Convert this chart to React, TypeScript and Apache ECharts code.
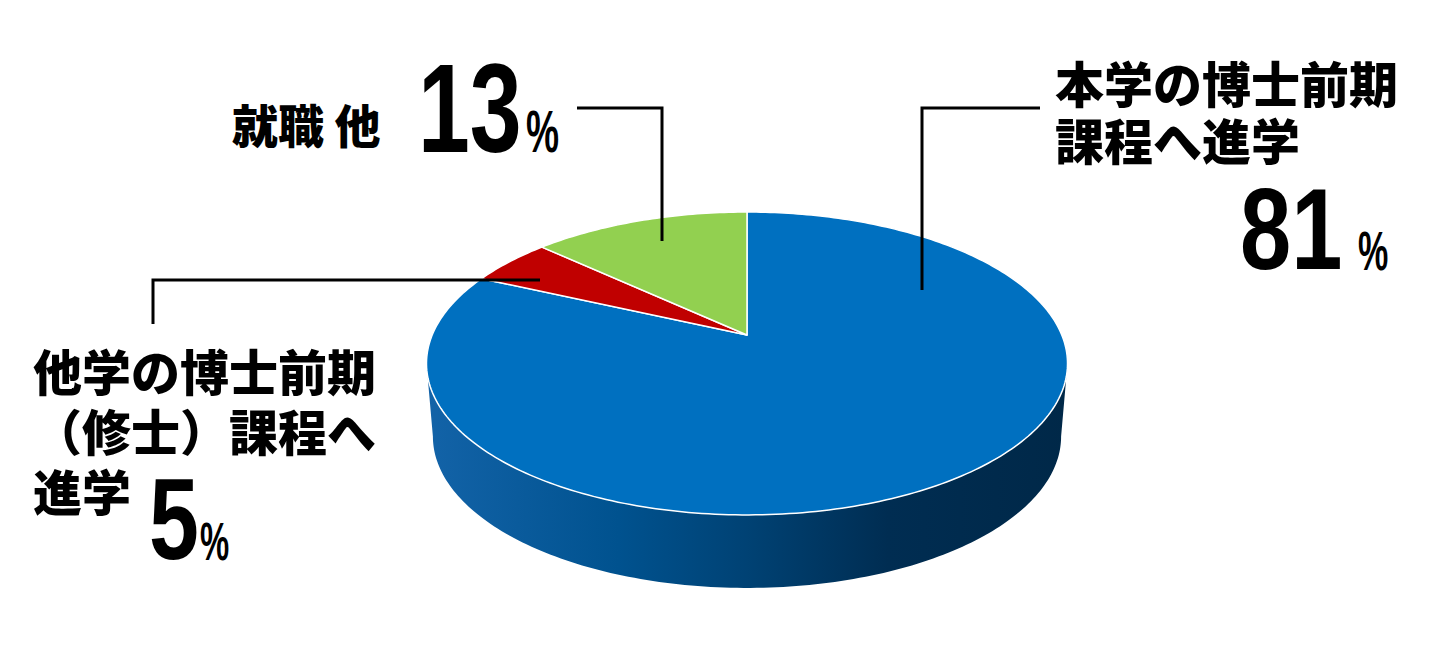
import React, { useEffect, useRef } from "react";
import * as echarts from "echarts";

// ---- data ----
const categories = [
  "本学の博士前期課程へ進学",
  "他学の博士前期（修士）課程へ進学",
  "就職 他",
];
const values = [81, 5, 13];
const colors = ["#0070C0", "#C00000", "#92D050"];
const labelTexts = ["本学の博士前期\n課程へ進学", "他学の博士前期\n（修士）課程へ\n進学", "就職 他"];

// ---- layout (perspective pie) ----
const CX = 747;
const CY = 335;
const RA = 314.8;
const RB = 146.1;
const PK = 0.188;
const DEPTH = 73;
const BOTTOM_SCALE = 0.98;
const PHI_R = (Math.acos(-PK) * 180) / Math.PI;
const PHI_L = 360 - PHI_R;

function proj(phiDeg: number, r: number, bottom: boolean): number[] {
  const p = (phiDeg * Math.PI) / 180;
  const u = r * Math.sin(p);
  const v = -r * Math.cos(p);
  const w = 1 - PK * v;
  const x = CX + ((RA * u) / w) * (bottom ? BOTTOM_SCALE : 1);
  const y = CY + (RB * v) / w + (bottom ? DEPTH : 0);
  return [x, y];
}

function arc(a0: number, a1: number, bottom: boolean): number[][] {
  const pts: number[][] = [];
  const n = Math.max(2, Math.ceil(Math.abs(a1 - a0)));
  for (let i = 0; i <= n; i++) pts.push(proj(a0 + ((a1 - a0) * i) / n, 1, bottom));
  return pts;
}

const total = values.reduce((s, v) => s + v, 0);

const leaderLines = [
  [[922, 290], [922, 108], [1040, 108]],
  [[540, 280], [153, 280], [153, 324]],
  [[662, 241], [662, 108], [577, 108]],
];

const CJK = '"Noto Sans CJK JP", "Noto Sans CJK SC", sans-serif';
const NUM = '"Liberation Sans", Arial, sans-serif';

export default function App() {
  const ref = useRef<HTMLDivElement>(null);
  useEffect(() => {
    if (!ref.current) return;
    const chart = echarts.init(ref.current, null, { renderer: "svg" });

    const sideFill = new echarts.graphic.LinearGradient(
      CX - RA * 1.02,
      0,
      CX + RA * 1.02,
      0,
      [
        { offset: 0, color: "#1363a8" },
        { offset: 0.3, color: "#00528f" },
        { offset: 0.5, color: "#004274" },
        { offset: 0.72, color: "#002d52" },
        { offset: 1, color: "#002848" },
      ],
      true
    );

    const graphics: any[] = [];
    leaderLines.forEach((pts) => {
      graphics.push({
        type: "polyline",
        z: 100,
        shape: { points: pts },
        style: { stroke: "#000", lineWidth: 3, fill: null },
      });
    });

    const cjkText = (text: string, x: number, y: number, size: number, lh: number) => ({
      type: "text",
      z: 100,
      x,
      y,
      style: {
        text,
        fontFamily: CJK,
        fontWeight: 900,
        fontSize: size,
        lineHeight: lh,
        fill: "#000",
        align: "left",
        verticalAlign: "top",
      },
    });
    const numText = (text: string, x: number, y: number, size: number, sx: number) => ({
      type: "text",
      z: 100,
      x,
      y,
      scaleX: sx,
      style: {
        text,
        fontFamily: NUM,
        fontWeight: "bold",
        fontSize: size,
        lineHeight: size,
        fill: "#000",
        align: "left",
        verticalAlign: "middle",
      },
    });

    graphics.push(cjkText(labelTexts[0], 1055, 52.5, 49, 57));
    graphics.push(numText(String(values[0]), 1240, 229, 115, 0.8));
    graphics.push(numText("%", 1358, 251, 55, 0.62));

    graphics.push(cjkText(labelTexts[1], 33, 339.5, 49, 60));
    graphics.push(numText(String(values[1]), 149, 519, 115, 0.78));
    graphics.push(numText("%", 200, 541, 53, 0.62));

    graphics.push(cjkText(labelTexts[2], 232, 98, 46, 50));
    graphics.push(numText(String(values[2]), 418, 108, 126, 0.74));
    graphics.push(numText("%", 526, 131.5, 60, 0.62));

    chart.setOption({
      animation: false,
      backgroundColor: "#fff",
      series: [
        {
          type: "custom",
          coordinateSystem: "none",
          data: values.map((v, i) => ({
            name: categories[i],
            value: v,
            itemStyle: { color: colors[i] },
          })),
          renderItem: (params: any, api: any) => {
            const i = params.dataIndex;
            const val = api.value(0);
            let start = 0;
            for (let j = 0; j < i; j++) start += values[j];
            const a0 = (start / total) * 360;
            const a1 = ((start + val) / total) * 360;
            const children: any[] = [];
            const s0 = Math.max(a0, PHI_R);
            const s1 = Math.min(a1, PHI_L);
            if (s1 > s0) {
              const topArc = arc(s0, s1, false);
              const botArc = arc(s1, s0, true);
              children.push({
                type: "polygon",
                z2: 0,
                shape: { points: topArc.concat(botArc) },
                style: { fill: sideFill, stroke: null },
              });
            }
            const topPts = [[CX, CY]].concat(arc(a0, a1, false));
            children.push({
              type: "polygon",
              z2: 5,
              shape: { points: topPts },
              style: { fill: colors[i], stroke: "#ffffff", lineWidth: 1.5, lineJoin: "round" },
            });
            return { type: "group", children };
          },
        },
      ],
      graphic: { elements: graphics },
    });
    return () => chart.dispose();
  }, []);
  return (
    <div
      ref={ref}
      style={{ position: "fixed", left: 0, top: 0, width: 1435, height: 651 }}
    />
  );
}
